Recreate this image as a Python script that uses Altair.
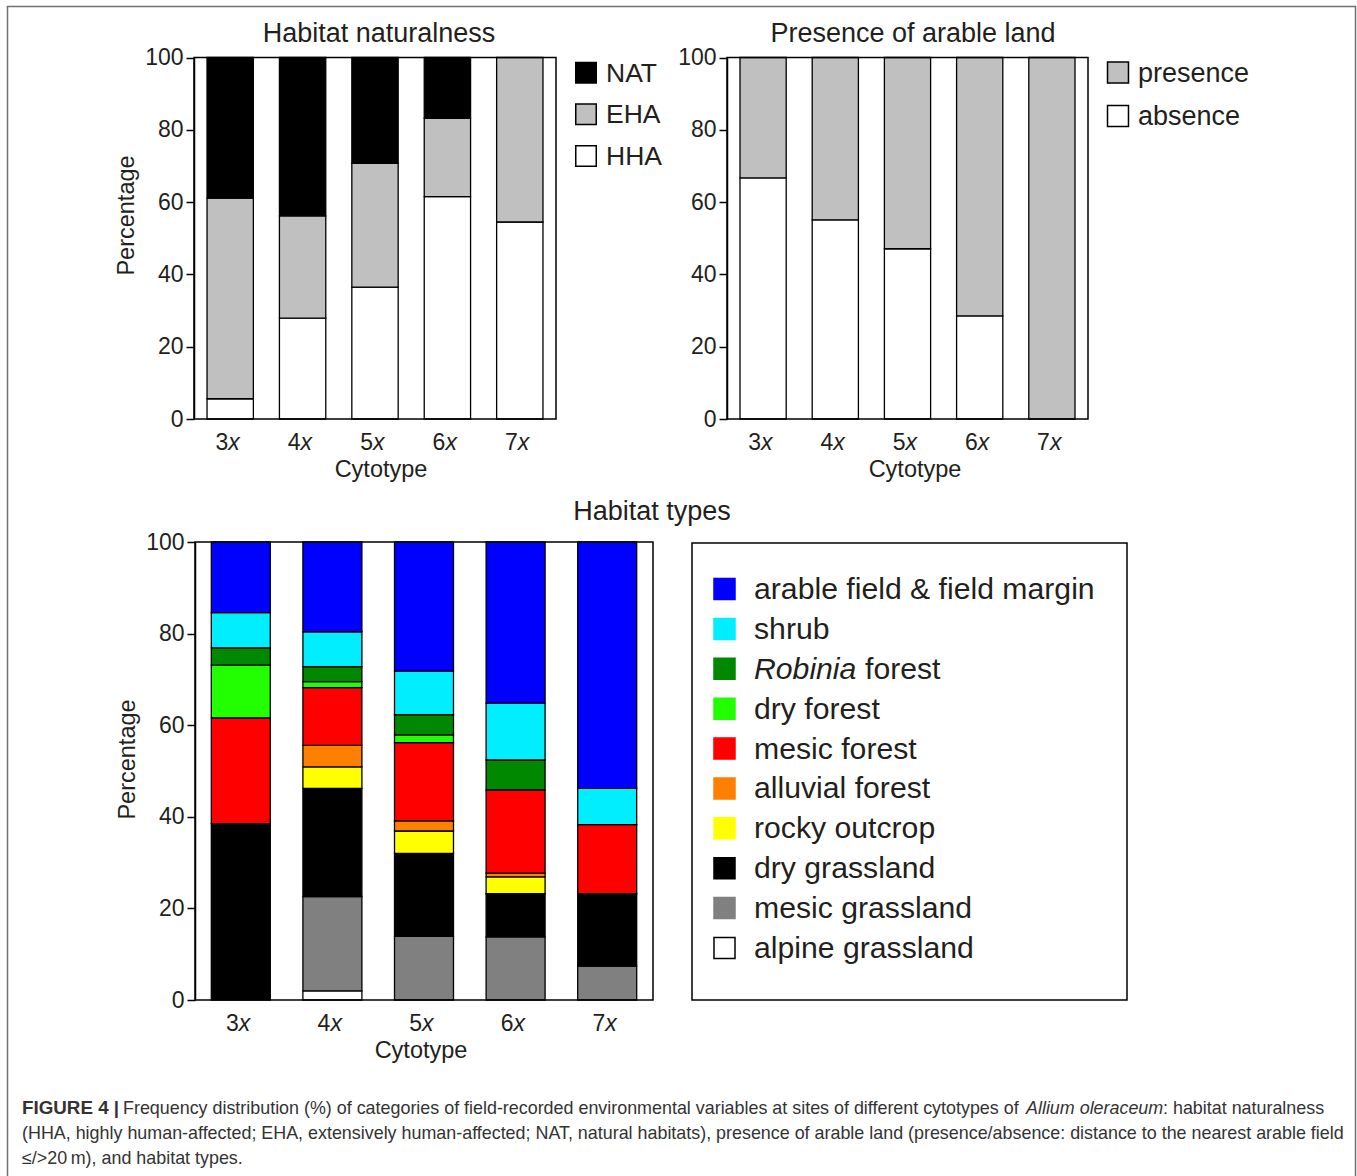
import altair as alt
import pandas as pd

# ---------------- data ----------------
cytotypes = ["3x", "4x", "5x", "6x", "7x"]
cyto_digits = ["3", "4", "5", "6", "7"]

# Habitat naturalness (stack order bottom -> top)
nat_categories = ["HHA", "EHA", "NAT"]
nat_hha = [5.6, 27.9, 36.5, 61.5, 54.5]
nat_eha = [55.5, 28.3, 34.2, 21.7, 45.5]
nat_nat = [38.9, 43.8, 29.3, 16.8, 0.0]
nat_colors = ["#ffffff", "#c0c0c0", "#000000"]
nat_legend_order = ["NAT", "EHA", "HHA"]

# Presence of arable land (bottom -> top)
arable_categories = ["absence", "presence"]
arable_absence = [66.7, 55.1, 47.1, 28.5, 0.0]
arable_presence = [33.3, 44.9, 52.9, 71.5, 100.0]
arable_colors = ["#ffffff", "#c0c0c0"]
arable_legend_order = ["presence", "absence"]

# Habitat types (bottom -> top)
habitat_categories = ["alpine grassland", "mesic grassland", "dry grassland",
                      "rocky outcrop", "alluvial forest", "mesic forest",
                      "dry forest", "Robinia forest", "shrub",
                      "arable field & field margin"]
habitat_colors = ["#ffffff", "#808080", "#000000", "#ffff00", "#ff8000",
                  "#ff0000", "#22ff00", "#008800", "#00eeff", "#0000ff"]
hab_alpine = [0.0, 2.0, 0.0, 0.0, 0.0]
hab_mesic_grass = [0.0, 20.6, 13.9, 13.8, 7.4]
hab_dry_grass = [38.5, 23.6, 18.1, 9.4, 15.8]
hab_rocky = [0.0, 4.7, 4.9, 3.7, 0.0]
hab_alluvial = [0.0, 4.7, 2.2, 0.8, 0.0]
hab_mesic_forest = [23.1, 12.6, 17.1, 18.2, 15.1]
hab_dry_forest = [11.5, 1.3, 1.7, 0.0, 0.0]
hab_robinia = [3.8, 3.3, 4.4, 6.5, 0.0]
hab_shrub = [7.7, 7.6, 9.5, 12.4, 7.9]
hab_arable = [15.4, 19.6, 28.2, 35.2, 53.8]

panel_titles = ["Habitat naturalness", "Presence of arable land", "Habitat types"]
y_title = "Percentage"
x_title = "Cytotype"
tick_values = [0, 20, 40, 60, 80, 100]

caption_bold = "FIGURE 4 |"
caption_l1a = "Frequency distribution (%) of categories of field-recorded environmental variables at sites of different cytotypes of"
caption_l1b = "Allium oleraceum"
caption_l1c = ": habitat naturalness"
caption_l2 = ("(HHA, highly human-affected; EHA, extensively human-affected; NAT, natural habitats), "
              "presence of arable land (presence/absence: distance to the nearest arable field")
caption_l3 = "\u2264/>20\u2009m), and habitat types."

# ---------------- helpers ----------------
W, H = 1357, 1176
FONT = "Liberation Sans"
TXT = "#231f20"


def long_df(series, cats):
    rows = []
    for ci, (cat, vals) in enumerate(zip(cats, series)):
        for cy, v in zip(cytotypes, vals):
            if v > 0:
                rows.append({"cyto": cy, "cat": cat, "v": v, "o": ci})
    return pd.DataFrame(rows)


lab_df = pd.DataFrame({"cyto": cytotypes, "num": cyto_digits, "ix": ["x"] * 5})
xt_df = pd.DataFrame({"t": [x_title]})


def panel(df, cats, colors, x_range, y_range, pad_inner, show_y_title,
          y_title_y, x_title_x, label_base):
    y_axis_kw = dict(orient="left", offset=-x_range[0], values=tick_values,
                     tickSize=8, tickWidth=1.5, tickColor="black",
                     domainColor="black", domainWidth=1.5, grid=False,
                     labelFont=FONT, labelFontSize=23, labelColor=TXT,
                     labelPadding=3, labelFlush=False)
    if show_y_title:
        y_axis_kw.update(title=y_title, titleFont=FONT, titleFontSize=23.5,
                         titleFontWeight="normal", titleColor=TXT,
                         titleX=-68, titleY=y_title_y, titleAngle=270,
                         titleBaseline="middle", titleAlign="center")
    else:
        y_axis_kw.update(title=None)
    x_axis = alt.Axis(orient="bottom", offset=y_range[0] - H, labels=False,
                      tickSize=8, tickWidth=1.5, tickColor="black",
                      domainColor="black", domainWidth=1.5, grid=False,
                      title=None)
    xs = alt.Scale(range=x_range, paddingInner=pad_inner, paddingOuter=pad_inner / 2)
    bars = alt.Chart(df).mark_bar(stroke="black", strokeWidth=1.3).encode(
        x=alt.X("cyto:N", sort=cytotypes, scale=xs, axis=x_axis),
        y=alt.Y("v:Q", stack="zero",
                scale=alt.Scale(domain=[0, 100], range=y_range, nice=False),
                axis=alt.Axis(**y_axis_kw)),
        fill=alt.Fill("cat:N", scale=alt.Scale(domain=cats, range=colors), legend=None),
        order=alt.Order("o:Q", sort="ascending"),
    )
    frame = alt.Chart(lab_df.head(1)).mark_rect(
        fill="white", fillOpacity=0, stroke="black", strokeWidth=1.5
    ).encode(x=alt.value(x_range[0]), x2=alt.value(x_range[1]),
             y=alt.value(y_range[1]), y2=alt.value(y_range[0]))
    nums = alt.Chart(lab_df).mark_text(
        font=FONT, fontSize=23, align="right", baseline="alphabetic", dx=-2, color=TXT
    ).encode(x=alt.X("cyto:N", sort=cytotypes, axis=None), y=alt.value(label_base),
             text="num:N")
    xs_ = alt.Chart(lab_df).mark_text(
        font=FONT, fontSize=23, fontStyle="italic", align="left", baseline="alphabetic",
        dx=-2, color=TXT
    ).encode(x=alt.X("cyto:N", sort=cytotypes, axis=None), y=alt.value(label_base),
             text="ix:N")
    xtitle = alt.Chart(xt_df).mark_text(
        font=FONT, fontSize=23.5, align="center", baseline="alphabetic", color=TXT
    ).encode(x=alt.value(x_title_x), y=alt.value(y_range[0] + 58), text="t:N")
    return alt.layer(bars, frame, nums, xs_, xtitle)


def legend(order, cats, colors, sq_x, y_range, size, strokes):
    ldf = pd.DataFrame({"cat": order})
    ys = alt.Y("cat:N", sort=order, axis=None,
               scale=alt.Scale(type="point", range=y_range, padding=0))
    sq = alt.Chart(ldf).mark_square(size=size, opacity=1, strokeWidth=1.5).encode(
        x=alt.value(sq_x), y=ys,
        fill=alt.Fill("cat:N", scale=alt.Scale(domain=cats, range=colors), legend=None),
        stroke=alt.Stroke("cat:N", scale=alt.Scale(domain=cats, range=strokes), legend=None),
    )
    return sq, ys, ldf


# ---------------- panels ----------------
dfA = long_df([nat_hha, nat_eha, nat_nat], nat_categories)
dfB = long_df([arable_absence, arable_presence], arable_categories)
dfC = long_df([hab_alpine, hab_mesic_grass, hab_dry_grass, hab_rocky, hab_alluvial,
               hab_mesic_forest, hab_dry_forest, hab_robinia, hab_shrub, hab_arable],
              habitat_categories)

pA = panel(dfA, nat_categories, nat_colors, [194, 556], [419, 57.5], 0.36, True, 215, 381, 450)
pB = panel(dfB, arable_categories, arable_colors, [727, 1088], [419, 57.5], 0.36, False, 0, 915, 450)
pC = panel(dfC, habitat_categories, habitat_colors, [195, 653], [1000, 542], 0.356, True, 759, 421, 1031)

# legend A
sqA, ysA, ldfA = legend(nat_legend_order, nat_categories, nat_colors, 586, [72.7, 156], 420,
                        ["black"] * 3)
txtA = alt.Chart(ldfA).mark_text(font=FONT, fontSize=26.5, align="left", baseline="middle",
                                 color=TXT, dy=1).encode(x=alt.value(606), y=ysA, text="cat:N")
legA = alt.layer(sqA, txtA)

# legend B
sqB, ysB, ldfB = legend(arable_legend_order, arable_categories, arable_colors, 1118, [72.5, 116],
                        440, ["black"] * 2)
txtB = alt.Chart(ldfB).mark_text(font=FONT, fontSize=27, align="left", baseline="middle",
                                 color=TXT, dy=1).encode(x=alt.value(1138), y=ysB, text="cat:N")
legB = alt.layer(sqB, txtB)

# legend C
hab_legend_order = habitat_categories[::-1]
hab_strokes = ["#000000" if c == "#ffffff" else c for c in habitat_colors]
sqC, ysC, ldfC = legend(hab_legend_order, habitat_categories, habitat_colors, 724.5,
                        [589, 948], 441, hab_strokes)
LC_FS = 30.2
txtC = alt.Chart(ldfC).transform_filter(alt.datum.cat != "Robinia forest").mark_text(
    font=FONT, fontSize=LC_FS, align="left", baseline="middle", color=TXT, dy=1
).encode(x=alt.value(754), y=ysC, text="cat:N")
robC1 = alt.Chart(ldfC).transform_filter(alt.datum.cat == "Robinia forest").transform_calculate(
    t="split(datum.cat, ' ')[0]").mark_text(
    font=FONT, fontSize=LC_FS, fontStyle="italic", align="left", baseline="middle", color=TXT, dy=1
).encode(x=alt.value(754), y=ysC, text="t:N")
robC2 = alt.Chart(ldfC).transform_filter(alt.datum.cat == "Robinia forest").transform_calculate(
    t="split(datum.cat, ' ')[1]").mark_text(
    font=FONT, fontSize=LC_FS, align="left", baseline="middle", color=TXT, dy=1, dx=111
).encode(x=alt.value(754), y=ysC, text="t:N")
boxC = alt.Chart(ldfC.head(1)).mark_rect(fill="white", fillOpacity=0, stroke="black",
                                         strokeWidth=1.5).encode(
    x=alt.value(692), x2=alt.value(1127), y=alt.value(543), y2=alt.value(1000))
legC = alt.layer(boxC, sqC, txtC, robC1, robC2)

# titles
tdf = pd.DataFrame({"t": panel_titles})


def title_layer(i, x, y):
    return alt.Chart(tdf.iloc[[i]]).mark_text(font=FONT, fontSize=27, align="center",
                                              baseline="alphabetic", color=TXT).encode(
        x=alt.value(x), y=alt.value(y), text="t:N")


titles = [title_layer(0, 379, 42), title_layer(1, 913, 42), title_layer(2, 652, 520)]

# caption
cdf = pd.DataFrame({"t": [caption_bold, caption_l1a, caption_l1b, caption_l1c, caption_l2, caption_l3]})
CAP_FS = 17.9


def cap(i, x, y, weight="normal", style="normal", fs=CAP_FS):
    return alt.Chart(cdf.iloc[[i]]).mark_text(font=FONT, fontSize=fs, align="left",
                                              baseline="alphabetic", color="#333333",
                                              fontWeight=weight, fontStyle=style).encode(
        x=alt.value(x), y=alt.value(y), text="t:N")


caps = [cap(0, 22, 1114, weight="bold", fs=18.8), cap(1, 123, 1114),
        cap(2, 1026, 1114, style="italic"), cap(3, 1163, 1114),
        cap(4, 22, 1139), cap(5, 22, 1164)]

outer = alt.Chart(tdf.head(1)).mark_rect(fill="white", fillOpacity=0, stroke="#707070",
                                         strokeWidth=1.5).encode(
    x=alt.value(7.5), x2=alt.value(1355.5), y=alt.value(6.5), y2=alt.value(1300))

chart = alt.layer(
    outer, pA, pB, pC, legA, legB, legC, *titles, *caps
).resolve_scale(
    x="independent", y="independent", fill="independent", stroke="independent"
).properties(
    width=W, height=H, autosize=alt.AutoSizeParams(type="none"), padding=0,
    background="white"
).configure_view(strokeWidth=0)

chart.save("out.html", embed_options={"renderer": "svg", "actions": False})
